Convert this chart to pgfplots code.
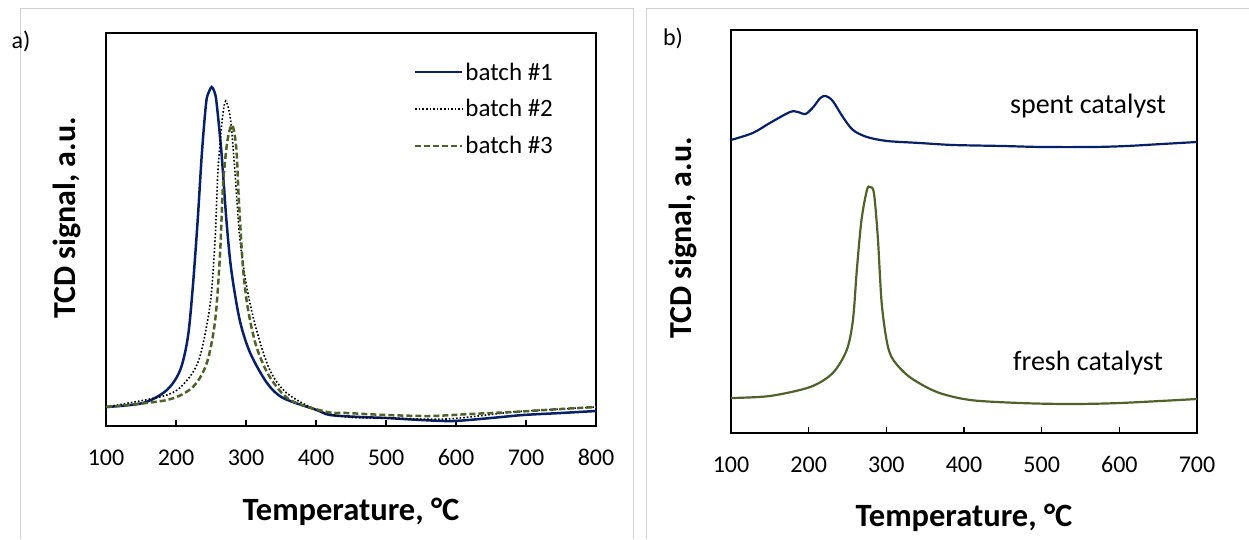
\documentclass[border=0pt]{standalone}
\usepackage{fontspec}
\setmainfont{Carlito}
\usepackage{pgfplots}
\pgfplotsset{compat=1.18}
\definecolor{navy}{RGB}{8,32,104}
\definecolor{olive}{RGB}{79,98,40}
\pgfplotsset{
  tcd/.style={
    scale only axis,
    axis line style={line width=2pt},
    xtick align=inside, xtick pos=bottom, ytick=\empty,
    major tick length=6pt,
    every tick/.style={line width=1.5pt, black},
    xticklabel style={font=\fontsize{24}{24}\selectfont},
    /pgf/number format/assume math mode=true,
    xticklabel shift=20pt,
  }
}
\begin{document}
\begin{tikzpicture}
\path[use as bounding box] (0pt,0pt) rectangle (1249pt,539pt);
\draw[black!18, line width=1pt] (20pt,0pt) -- (20pt,530pt) -- (633pt,530pt) -- (633pt,0pt);
\draw[black!18, line width=1pt] (646pt,0pt) -- (646pt,530pt) -- (1249pt,530pt);

% Panel a
\begin{axis}[tcd, at={(106pt,113pt)}, anchor=south west, width=490pt, height=393pt,
  xmin=100, xmax=800, ymin=0, ymax=393, xtick={100,200,...,800},
  legend style={draw=none, fill=none, at={(0.622,0.935)}, anchor=north west,
    font=\fontsize{25}{25}\selectfont, row sep=14pt},
  legend cell align=left,
  legend image code/.code={\draw[#1] (0pt,0pt) -- (47pt,0pt);}]
\addplot[navy, line width=2.5pt, smooth, tension=0.5] coordinates {
(100,19)(153,23)(187,36)(206,56)(217,89)(224,139)(231,206)(237,273)(243,323)(247,334)(251,339)(255,334)(258,323)(265,273)(272,206)(279,156)(291,106)(306,73)(330,43)(353,28)(401,16)(420,11)(463,9)(501,8)(550,6)(596,5)(650,8)(696,11)(750,13)(800,15)};
\addlegendentry{batch \#1}
\addplot[black, line width=1.6pt, dotted, smooth, tension=0.5] coordinates {
(100,19)(187,31)(216,46)(234,69)(249,123)(256,189)(260,256)(266,306)(271,325)(278,306)(284,256)(291,189)(301,139)(315,96)(334,56)(358,33)(401,16)(444,9)(500,8)(587,7)(681,14)(750,17)(800,19)};
\addlegendentry{batch \#2}
\addplot[olive, line width=2.5pt, dash pattern=on 6pt off 3pt, smooth, tension=0.5] coordinates {
(100,19)(187,26)(224,39)(244,63)(256,106)(263,173)(267,239)(273,283)(280,301)(286,279)(290,223)(296,156)(303,116)(315,79)(334,49)(363,26)(416,14)(444,13)(500,11)(563,10)(620,12)(681,14)(750,17)(800,19)};
\addlegendentry{batch \#3}
\end{axis}

% Panel b
\begin{axis}[tcd, at={(731pt,106pt)}, anchor=south west, width=466pt, height=403pt,
  xmin=100, xmax=700, ymin=0, ymax=403, xtick={100,200,...,700}]
\addplot[navy, line width=2.2pt, smooth, tension=0.5] coordinates {
(100,293)(128,300)(150,310)(176,321)(186,321)(196,319)(206,326)(215,335)(222,337)(231,332)(244,316)(257,303)(275,296)(301,292)(343,290)(386,288)(450,287)(500,286)(566,286)(610,287)(655,289)(700,291)};
\addplot[olive, line width=2.2pt, smooth, tension=0.5] coordinates {
(100,35)(150,37)(202,46)(231,60)(249,83)(257,113)(262,163)(268,213)(275,243)(279,246)(284,240)(289,196)(294,130)(301,90)(309,73)(330,56)(365,41)(408,33)(472,30)(536,29)(601,30)(700,34)};
\end{axis}

\node[font=\fontsize{32.5}{32.5}\selectfont\bfseries] at (351pt,27pt) {Temperature, °C};
\node[font=\fontsize{32.5}{32.5}\selectfont\bfseries] at (964pt,21pt) {Temperature, °C};
\node[font=\fontsize{32}{32}\selectfont\bfseries, rotate=90] at (67pt,321pt) {TCD signal, a.u.};
\node[font=\fontsize{32}{32}\selectfont\bfseries, rotate=90] at (683pt,301pt) {TCD signal, a.u.};
\node[font=\fontsize{24}{24}\selectfont] at (21pt,498pt) {a)};
\node[font=\fontsize{24}{24}\selectfont] at (673pt,501pt) {b)};
\node[font=\fontsize{28}{28}\selectfont] at (1088pt,433pt) {spent catalyst};
\node[font=\fontsize{28}{28}\selectfont] at (1088pt,176pt) {fresh catalyst};
\end{tikzpicture}
\end{document}
